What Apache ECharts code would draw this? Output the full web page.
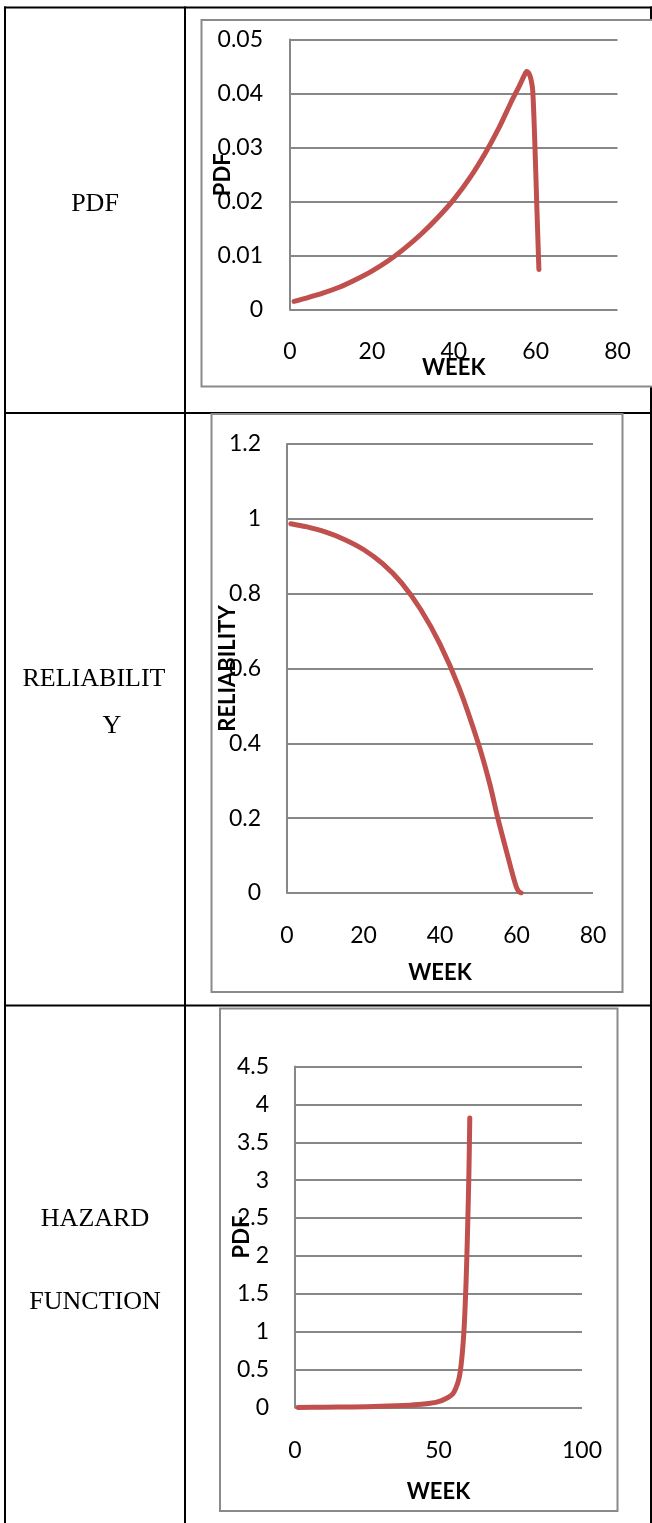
<!DOCTYPE html>
<html><head><meta charset="utf-8">
<script src="https://cdn.jsdelivr.net/npm/echarts@6.0.0/dist/echarts.min.js"></script>
<style>html,body{margin:0;padding:0;background:#fff}#c{width:652px;height:1523px}</style>
</head><body><div id="c"></div>
<script>
// ---- data ----
const rowLabels = ['PDF', 'RELIABILIT', 'Y', 'HAZARD', 'FUNCTION'];
const xAxisTitle = 'WEEK';
const yAxisTitles = ['PDF', 'RELIABILITY', 'PDF'];

const pdfWeeks  = [1, 4, 8, 12, 16, 20, 24, 28, 32, 36, 40, 44, 48, 51, 54, 56, 57.2, 57.8, 58.4, 58.9, 59.3, 59.8, 60.3, 60.8];
const pdfValues = [0.0016, 0.0022, 0.0031, 0.0042, 0.0056, 0.0072, 0.0091, 0.0114, 0.0140, 0.0170, 0.0204, 0.0245, 0.0294, 0.0336, 0.0384, 0.0414, 0.0433, 0.0441, 0.0437, 0.0425, 0.0405, 0.0310, 0.0190, 0.0075];

const relWeeks  = [1, 5, 10, 15, 20, 25, 30, 35, 40, 45, 50, 53, 55, 57, 58.5, 59.3, 60, 60.6, 61.2];
const relValues = [0.987, 0.979, 0.965, 0.945, 0.918, 0.880, 0.828, 0.757, 0.665, 0.548, 0.400, 0.292, 0.205, 0.126, 0.068, 0.038, 0.015, 0.004, 0.0];

const hazWeeks  = [1, 10, 20, 30, 40, 45, 50, 53, 55, 56, 57, 57.6, 58.1, 58.6, 59.0, 59.4, 59.8, 60.2, 60.6, 60.9];
const hazValues = [0.0016, 0.0035, 0.0078, 0.015, 0.030, 0.045, 0.078, 0.125, 0.180, 0.250, 0.360, 0.480, 0.640, 0.860, 1.10, 1.45, 1.88, 2.45, 3.10, 3.82];

const pdfXTicks = {min: 0, max: 80, interval: 20};
const pdfYTicks = {min: 0, max: 0.05, interval: 0.01};
const relXTicks = {min: 0, max: 80, interval: 20};
const relYTicks = {min: 0, max: 1.2, interval: 0.2};
const hazXTicks = {min: 0, max: 100, interval: 50};
const hazYTicks = {min: 0, max: 4.5, interval: 0.5};

// ---- styling ----
const RED = '#C0504D';
const GRAY = '#878787';
const FONT = 'Lato';

function pairs(xs, ys) { return xs.map((x, i) => [x, ys[i]]); }

function xAxis(g, t, gap, margin) {
  return {
    type: 'value', gridIndex: g, min: t.min, max: t.max, interval: t.interval,
    name: xAxisTitle, nameLocation: 'middle', nameGap: gap, nameMoveOverlap: false,
    nameTextStyle: {fontFamily: FONT, fontWeight: 'bold', fontSize: 22, color: '#000'},
    axisLine: {show: false}, axisTick: {show: false}, splitLine: {show: false},
    axisLabel: {fontFamily: FONT, fontSize: 23, color: '#000', margin: margin}
  };
}
function yAxis(g, t, name, gap, margin) {
  return {
    type: 'value', gridIndex: g, min: t.min, max: t.max, interval: t.interval,
    name: name, nameLocation: 'middle', nameGap: gap, nameRotate: 90, nameMoveOverlap: false,
    nameTextStyle: {fontFamily: FONT, fontWeight: 'bold', fontSize: 22, color: '#000'},
    axisLine: {show: true, lineStyle: {color: GRAY, width: 2}},
    axisTick: {show: false},
    splitLine: {show: true, lineStyle: {color: GRAY, width: 2}},
    axisLabel: {fontFamily: FONT, fontSize: 23, color: '#000', margin: margin}
  };
}
function series(i, xs, ys) {
  return {
    type: 'line', xAxisIndex: i, yAxisIndex: i, data: pairs(xs, ys),
    showSymbol: false, smooth: 0.3, silent: true,
    lineStyle: {color: RED, width: 5, cap: 'round', join: 'round'}
  };
}

function hline(x1, x2, y) { return {type: 'line', z: -20, shape: {x1: x1, y1: y, x2: x2, y2: y}, style: {stroke: '#000', lineWidth: 2}}; }
function vline(x, y1, y2) { return {type: 'line', z: -20, shape: {x1: x, y1: y1, x2: x, y2: y2}, style: {stroke: '#000', lineWidth: 2}}; }
function box(x, y, w, h) { return {type: 'rect', z: -10, shape: {x: x, y: y, width: w, height: h}, style: {fill: '#fff', stroke: '#8a8a8a', lineWidth: 2}}; }
function label(text, x, y) {
  return {type: 'text', z: -5, x: x, y: y,
    style: {text: text, fill: '#000', font: '26px "Liberation Serif", "Times New Roman", serif', align: 'center', verticalAlign: 'middle'}};
}

const chart = echarts.init(document.getElementById('c'), null, {renderer: 'canvas'});
chart.setOption({
  animation: false,
  backgroundColor: '#fff',
  grid: [
    {left: 290, top: 39.5, width: 327.5, height: 270.5},
    {left: 287, top: 444, width: 306, height: 449},
    {left: 295, top: 1066.5, width: 287, height: 341}
  ],
  xAxis: [
    xAxis(0, pdfXTicks, 47, 30),
    xAxis(1, relXTicks, 69, 31),
    xAxis(2, hazXTicks, 73, 32)
  ],
  yAxis: [
    yAxis(0, pdfYTicks, yAxisTitles[0], 56, 27),
    yAxis(1, relYTicks, yAxisTitles[1], 48, 26),
    yAxis(2, hazYTicks, yAxisTitles[2], 42, 26)
  ],
  series: [
    series(0, pdfWeeks, pdfValues),
    series(1, relWeeks, relValues),
    series(2, hazWeeks, hazValues)
  ],
  graphic: {elements: [
    hline(4, 652, 7.5),
    hline(4, 652, 413),
    hline(4, 652, 1005.5),
    vline(5, 6.5, 1523),
    vline(185, 6.5, 1523),
    vline(651, 6.5, 1523),
    box(201.5, 20, 470, 366.5),
    box(211.5, 414, 411, 578),
    box(220, 1008.5, 397.5, 502.5),
    label(rowLabels[0], 95, 204),
    label(rowLabels[1], 94, 679),
    label(rowLabels[2], 112, 726),
    label(rowLabels[3], 95, 1219),
    label(rowLabels[4], 95, 1302)
  ]}
});
</script>
</body></html>
